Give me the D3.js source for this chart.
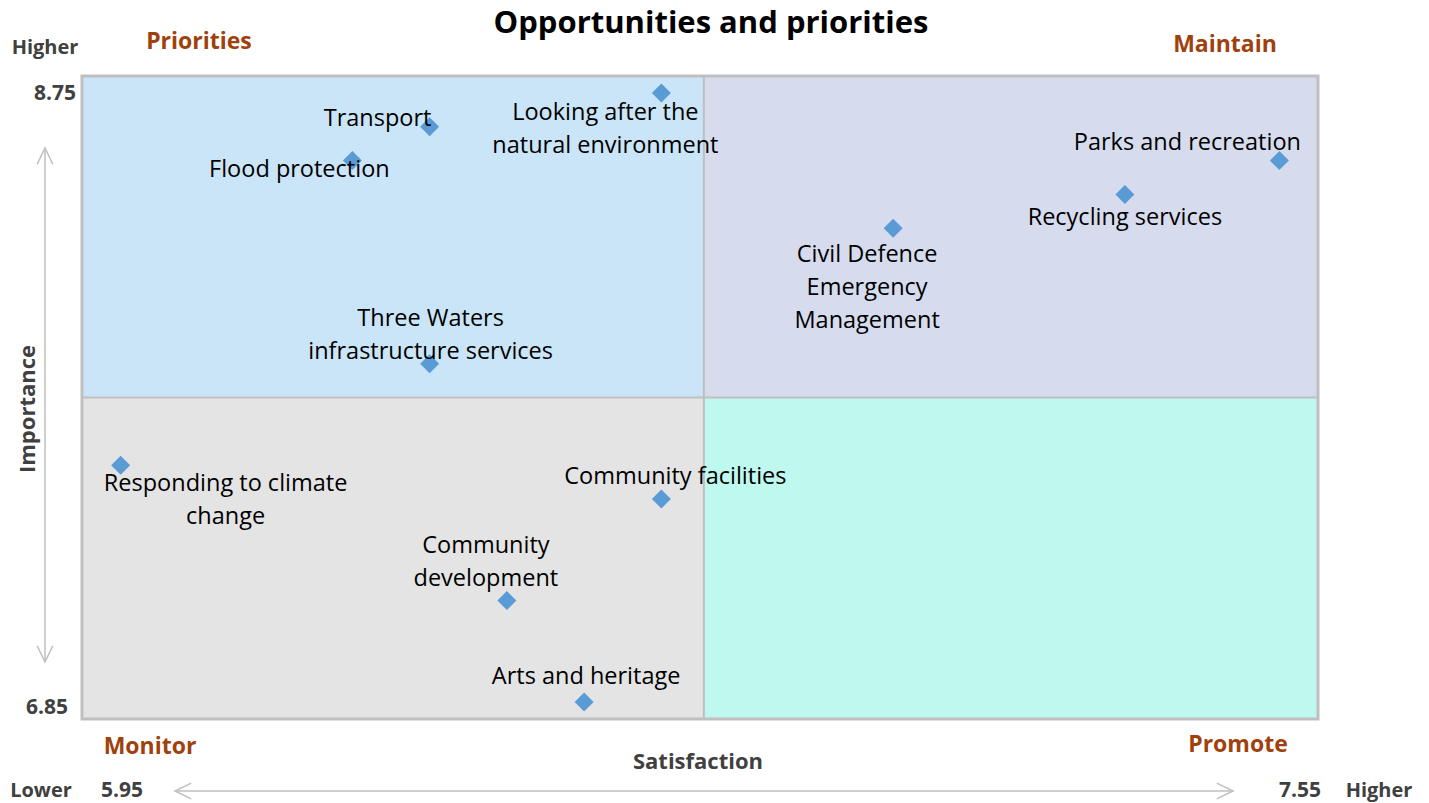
<!DOCTYPE html>
<html>
<head>
<meta charset="utf-8">
<script src="https://cdn.jsdelivr.net/npm/d3@7"></script>
<style>
  html, body { margin: 0; padding: 0; background: #ffffff; }
  svg { display: block; }
  text { font-family: "Open Sans", "DejaVu Sans", sans-serif; }
</style>
</head>
<body>
<svg id="chart" width="1429" height="803"></svg>
<script>
// Service areas with satisfaction (x) and importance (y) scores
const services = [
  "Looking after the natural environment",
  "Transport",
  "Flood protection",
  "Parks and recreation",
  "Recycling services",
  "Civil Defence Emergency Management",
  "Three Waters infrastructure services",
  "Responding to climate change",
  "Community facilities",
  "Community development",
  "Arts and heritage"
];
const satisfaction = [6.70, 6.40, 6.30, 7.50, 7.30, 7.00, 6.40, 6.00, 6.70, 6.50, 6.60];
const importance   = [8.70, 8.60, 8.50, 8.50, 8.40, 8.30, 7.90, 7.60, 7.50, 7.20, 6.90];

// Axis extents and quadrant split values
const satisfactionRange = [5.95, 7.55];
const importanceRange = [6.85, 8.75];
const satisfactionSplit = 6.755;
const importanceSplit = 7.80;

const quadrantNames = ["Priorities", "Maintain", "Monitor", "Promote"];
const rangeLabels = { low: "Lower", high: "Higher" };

// Label layout: wrapped lines and offset (px) of the block centre from the marker
const labelLayout = [
  { lines: ["Looking after the", "natural environment"], dx: -56, dy: 36 },
  { lines: ["Transport"], dx: -52, dy: -9 },
  { lines: ["Flood protection"], dx: -53, dy: 8 },
  { lines: ["Parks and recreation"], dx: -92, dy: -19 },
  { lines: ["Recycling services"], dx: 0, dy: 23 },
  { lines: ["Civil Defence", "Emergency", "Management"], dx: -26, dy: 59 },
  { lines: ["Three Waters", "infrastructure services"], dx: 1, dy: -29 },
  { lines: ["Responding to climate", "change"], dx: 105, dy: 34 },
  { lines: ["Community facilities"], dx: 14, dy: -23 },
  { lines: ["Community", "development"], dx: -21, dy: -39 },
  { lines: ["Arts and heritage"], dx: 2, dy: -26 }
];

const svg = d3.select("#chart");
const plot = { left: 82, right: 1318, top: 76, bottom: 719 };

const x = d3.scaleLinear().domain(satisfactionRange).range([plot.left, plot.right]);
const y = d3.scaleLinear().domain(importanceRange).range([plot.bottom, plot.top]);

const axisGrey = "#404040";
const quadColour = "#A0410D";
const frameGrey = "#BFBFBF";

// Quadrant backgrounds
const quads = [
  { x0: satisfactionRange[0], x1: satisfactionSplit, y0: importanceSplit, y1: importanceRange[1], fill: "#CAE5F7" },
  { x0: satisfactionSplit, x1: satisfactionRange[1], y0: importanceSplit, y1: importanceRange[1], fill: "#D6DCEE" },
  { x0: satisfactionRange[0], x1: satisfactionSplit, y0: importanceRange[0], y1: importanceSplit, fill: "#E4E4E4" },
  { x0: satisfactionSplit, x1: satisfactionRange[1], y0: importanceRange[0], y1: importanceSplit, fill: "#BEF8EF" }
];
svg.append("g").selectAll("rect").data(quads).join("rect")
  .attr("x", d => x(d.x0)).attr("y", d => y(d.y1))
  .attr("width", d => x(d.x1) - x(d.x0)).attr("height", d => y(d.y0) - y(d.y1))
  .attr("fill", d => d.fill);

// Split lines
svg.append("line")
  .attr("x1", x(satisfactionSplit)).attr("x2", x(satisfactionSplit))
  .attr("y1", plot.top).attr("y2", plot.bottom)
  .attr("stroke", frameGrey).attr("stroke-width", 2);
svg.append("line")
  .attr("x1", plot.left).attr("x2", plot.right)
  .attr("y1", y(importanceSplit)).attr("y2", y(importanceSplit))
  .attr("stroke", frameGrey).attr("stroke-width", 2);

// Plot frame
svg.append("rect")
  .attr("x", plot.left).attr("y", plot.top)
  .attr("width", plot.right - plot.left).attr("height", plot.bottom - plot.top)
  .attr("fill", "none").attr("stroke", frameGrey).attr("stroke-width", 3);

// Title
svg.append("text")
  .attr("x", 711).attr("y", 33).attr("text-anchor", "middle")
  .attr("font-size", 31).attr("font-weight", 700).attr("fill", "#000")
  .text("Opportunities and priorities");

// Quadrant names
const quadLabelPos = [
  { x: 199, y: 49 }, { x: 1225, y: 52 }, { x: 150, y: 754 }, { x: 1238, y: 752 }
];
svg.append("g").selectAll("text").data(quadrantNames).join("text")
  .attr("x", (d, i) => quadLabelPos[i].x).attr("y", (d, i) => quadLabelPos[i].y)
  .attr("text-anchor", "middle").attr("font-size", 23).attr("font-weight", 700)
  .attr("fill", quadColour).text(d => d);

// Range end labels
const endStyle = (sel, size) => sel.attr("font-size", size).attr("font-weight", 700).attr("fill", axisGrey);
svg.append("text").attr("x", 45).attr("y", 54).attr("text-anchor", "middle").call(endStyle, 20).text(rangeLabels.high);
svg.append("text").attr("x", 76).attr("y", 100).attr("text-anchor", "end").call(endStyle, 21).text(y.domain()[1].toFixed(2));
svg.append("text").attr("x", 68).attr("y", 714).attr("text-anchor", "end").call(endStyle, 21).text(y.domain()[0].toFixed(2));
svg.append("text").attr("x", 41).attr("y", 797).attr("text-anchor", "middle").call(endStyle, 20).text(rangeLabels.low);
svg.append("text").attr("x", 122).attr("y", 797).attr("text-anchor", "middle").call(endStyle, 21).text(x.domain()[0].toFixed(2));
svg.append("text").attr("x", 1300).attr("y", 797).attr("text-anchor", "middle").call(endStyle, 21).text(x.domain()[1].toFixed(2));
svg.append("text").attr("x", 1379).attr("y", 797).attr("text-anchor", "middle").call(endStyle, 20).text(rangeLabels.high);

// Axis titles
svg.append("text").attr("x", 698).attr("y", 769).attr("text-anchor", "middle")
  .attr("font-size", 22).attr("font-weight", 700).attr("fill", axisGrey).text("Satisfaction");
svg.append("text").attr("transform", "translate(35,409) rotate(-90)").attr("text-anchor", "middle")
  .attr("font-size", 22).attr("font-weight", 700).attr("fill", axisGrey).text("Importance");

// Double-headed direction arrows
const arrowGrey = "#BFBFBF";
function arrow(x1, y1, x2, y2) {
  const g = svg.append("g").attr("stroke", arrowGrey).attr("stroke-width", 1.5).attr("fill", "none");
  g.append("line").attr("x1", x1).attr("y1", y1).attr("x2", x2).attr("y2", y2);
  const ang = Math.atan2(y2 - y1, x2 - x1);
  const len = 18, spread = 0.45;
  [[x1, y1, ang], [x2, y2, ang + Math.PI]].forEach(([px, py, a]) => {
    g.append("polyline").attr("points", [
      [px + len * Math.cos(a - spread), py + len * Math.sin(a - spread)],
      [px, py],
      [px + len * Math.cos(a + spread), py + len * Math.sin(a + spread)]
    ].map(p => p.join(",")).join(" "));
  });
}
arrow(45, 148, 45, 662);
arrow(175, 791, 1233, 791);

// Data markers
const points = services.map((name, i) => ({ name, sx: satisfaction[i], im: importance[i], layout: labelLayout[i] }));
svg.append("g").selectAll("path").data(points).join("path")
  .attr("d", d3.symbol().type(d3.symbolSquare).size(180))
  .attr("transform", d => `translate(${x(d.sx)},${y(d.im)}) rotate(45)`)
  .attr("fill", "#5B9BD5");

// Data labels
const lineH = 33;
const lbl = svg.append("g").selectAll("text").data(points).join("text")
  .attr("text-anchor", "middle").attr("font-size", 23.5).attr("fill", "#000");
lbl.each(function (d) {
  const n = d.layout.lines.length;
  const cx = x(d.sx) + d.layout.dx;
  const cy = y(d.im) + d.layout.dy;
  d3.select(this).selectAll("tspan").data(d.layout.lines).join("tspan")
    .attr("x", cx)
    .attr("y", (t, j) => cy + (j - (n - 1) / 2) * lineH + 8)
    .text(t => t);
});
</script>
</body>
</html>
